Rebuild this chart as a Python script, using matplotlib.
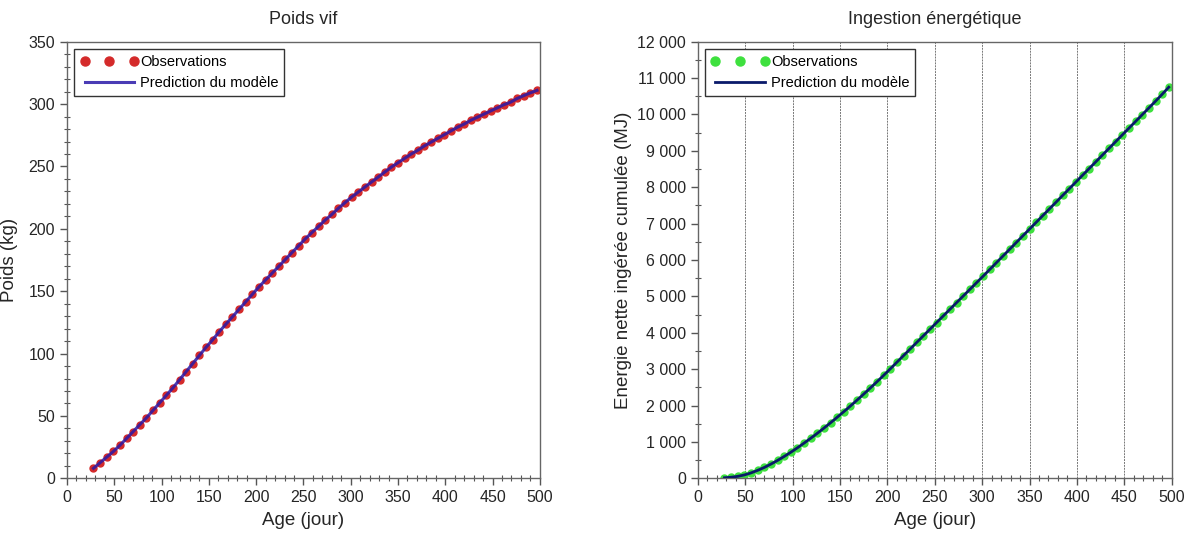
import numpy as np
import matplotlib.pyplot as plt
from matplotlib.ticker import MultipleLocator, FuncFormatter

plt.rcParams["font.family"] = ["Liberation Sans", "DejaVu Sans"]

# age of the animals (days), one observation per week
age = [28, 35, 42, 49, 56, 63, 70, 77, 84, 91, 98, 105, 112, 119, 126, 133,
       140, 147, 154, 161, 168, 175, 182, 189, 196, 203, 210, 217, 224, 231,
       238, 245, 252, 259, 266, 273, 280, 287, 294, 301, 308, 315, 322, 329,
       336, 343, 350, 357, 364, 371, 378, 385, 392, 399, 406, 413, 420, 427,
       434, 441, 448, 455, 462, 469, 476, 483, 490, 497]

# live weight (kg)
poids = [8.0, 12.5, 17.0, 21.5, 26.5, 32.0, 37.5, 43.0, 48.5, 54.5, 60.5,
         66.5, 72.5, 79.0, 85.5, 92.0, 98.5, 105.0, 111.0, 117.5, 123.5,
         129.5, 135.5, 141.5, 147.5, 153.5, 159.0, 164.5, 170.0, 175.5,
         181.0, 186.5, 192.0, 197.0, 202.0, 207.0, 211.5, 216.5, 221.0,
         225.5, 229.5, 233.5, 237.5, 241.5, 245.5, 249.5, 253.0, 256.5,
         260.0, 263.0, 266.5, 269.5, 272.5, 275.5, 278.5, 281.5, 284.0,
         287.0, 289.5, 292.0, 294.5, 297.0, 299.5, 301.5, 304.5, 306.8,
         309.0, 311.0]

# cumulated net energy intake (MJ)
energie = [15, 29, 54, 92, 148, 218, 298, 390, 491, 600, 715, 838, 967,
           1100, 1237, 1380, 1527, 1678, 1832, 1989, 2150, 2315, 2483, 2654,
           2829, 3008, 3190, 3372, 3554, 3736, 3918, 4100, 4282, 4464, 4646,
           4828, 5010, 5192, 5374, 5555, 5740, 5925, 6110, 6295, 6480, 6665,
           6850, 7035, 7220, 7405, 7590, 7775, 7960, 8145, 8330, 8515, 8700,
           8885, 9070, 9255, 9440, 9625, 9810, 9995, 10180, 10365, 10555,
           10750]

TXT = "#262626"


def style_axis(ax):
    ax.set_xlim(0, 500)
    ax.xaxis.set_major_locator(MultipleLocator(50))
    ax.xaxis.set_minor_locator(MultipleLocator(10))
    ax.tick_params(which="major", direction="out", length=5, width=1,
                   labelsize=11.5, colors="#555555", labelcolor=TXT)
    ax.tick_params(which="minor", direction="inout", length=4, width=0.8,
                   colors="#555555")
    ax.tick_params(top=False, right=False, which="both")
    for s in ax.spines.values():
        s.set_color("#666666")
        s.set_linewidth(1)
    ax.set_xlabel("Age (jour)", fontsize=13.5, color=TXT, labelpad=5)


fig = plt.figure(figsize=(11.88, 5.35), dpi=100)
ax1 = fig.add_axes([0.0564, 0.106, 0.398, 0.816])
ax2 = fig.add_axes([0.5875, 0.106, 0.3987, 0.816])

# left: live weight
ax1.plot(age, poids, "o", color="#d42a2a", ms=5, label="Observations",
         zorder=2)
ax1.plot(age, poids, "-", color="#2a1aa8", lw=2.2, alpha=0.85,
         label="Prediction du modèle", zorder=3)
style_axis(ax1)
ax1.set_ylim(0, 350)
ax1.yaxis.set_major_locator(MultipleLocator(50))
ax1.yaxis.set_minor_locator(MultipleLocator(10))
ax1.set_ylabel("Poids (kg)", fontsize=13.5, color=TXT)
ax1.yaxis.set_label_coords(-0.103, 0.5)
ax1.set_title("Poids vif", fontsize=13, color=TXT, pad=13)

# right: energy intake
ax2.plot(age, energie, "o", color="#3ee03e", ms=5, label="Observations",
         zorder=2)
ax2.plot(age, energie, "-", color="#0a1a6a", lw=2, label="Prediction du modèle",
         zorder=3)
style_axis(ax2)
ax2.set_ylim(0, 12000)
ax2.yaxis.set_major_locator(MultipleLocator(1000))
ax2.yaxis.set_minor_locator(MultipleLocator(500))
ax2.yaxis.set_major_formatter(
    FuncFormatter(lambda v, p: f"{int(v):,}".replace(",", " ")))
ax2.grid(True, axis="x", which="major", color="#777777", lw=0.7,
         ls=(0, (2, 1)))
ax2.set_axisbelow(True)
ax2.set_ylabel("Energie nette ingérée cumulée (MJ)", fontsize=13.5,
               color=TXT)
ax2.yaxis.set_label_coords(-0.139, 0.5)
ax2.set_title("Ingestion énergétique", fontsize=13, color=TXT, pad=13)

for ax in (ax1, ax2):
    leg = ax.legend(loc="upper left", numpoints=3, fontsize=10.5,
                    markerscale=1.3, frameon=True, fancybox=False,
                    borderaxespad=0.5, handlelength=4, handletextpad=0.1,
                    borderpad=0.4, labelspacing=0.5)
    leg.get_frame().set_edgecolor("#333333")
    leg.get_frame().set_linewidth(1)
    leg.get_frame().set_alpha(1)

fig.savefig("out.png", dpi=100)
